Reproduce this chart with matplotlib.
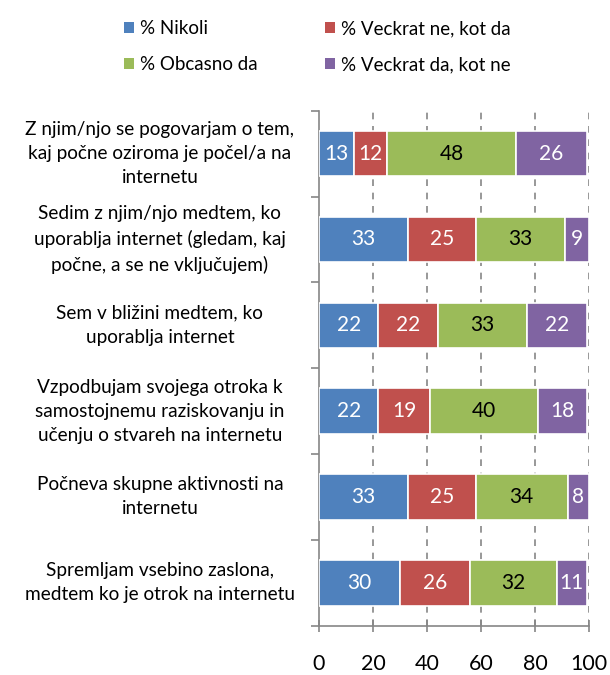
import matplotlib
matplotlib.use("Agg")
import matplotlib.pyplot as plt
from matplotlib.patches import Patch
import numpy as np

plt.rcParams['font.family'] = ['Lato', 'DejaVu Sans']

# vrstice (od zgoraj navzdol)
kategorije = [
    "Z njim/njo se pogovarjam o tem,\nkaj počne oziroma je počel/a na\ninternetu",
    "Sedim z njim/njo medtem, ko\nuporablja internet (gledam, kaj\npočne, a se ne vključujem)",
    "Sem v bližini medtem, ko\nuporablja internet",
    "Vzpodbujam svojega otroka k\nsamostojnemu raziskovanju in\nučenju o stvareh na internetu",
    "Počneva skupne aktivnosti na\ninternetu",
    "Spremljam vsebino zaslona,\nmedtem ko je otrok na internetu",
]
serije = ["% Nikoli", "% Veckrat ne, kot da", "% Obcasno da", "% Veckrat da, kot ne"]
nikoli = [13, 33, 22, 22, 33, 30]
veckrat_ne = [12, 25, 22, 19, 25, 26]
obcasno = [48, 33, 33, 40, 34, 32]
veckrat_da = [26, 9, 22, 18, 8, 11]

barve = ['#4F81BD', '#C0504D', '#9BBB59', '#8064A2']
barve_besedila = ['white', 'white', 'black', 'white']

fig = plt.figure(figsize=(6.1, 6.75), dpi=100)
ax = fig.add_axes([0.523, 0.073, 0.443, 0.763])

y = np.arange(len(kategorije))
levo = np.zeros(len(kategorije))
for vrednosti, barva, bb in zip([nikoli, veckrat_ne, obcasno, veckrat_da], barve, barve_besedila):
    vrednosti = np.array(vrednosti)
    ax.barh(y, vrednosti, left=levo, height=0.53, color=barva,
            edgecolor='white', linewidth=1.2, zorder=3)
    for yi, l, v in zip(y, levo, vrednosti):
        ax.text(l + v / 2, yi, str(v), ha='center', va='center',
                color=bb, fontsize=15, zorder=4)
    levo += vrednosti

ax.set_xlim(0, 100)
ax.set_ylim(len(kategorije) - 0.5, -0.5)
ax.set_xticks([0, 20, 40, 60, 80, 100])
ax.tick_params(axis='x', direction='inout', length=9, width=1.2,
               colors='#868686', labelcolor='black', labelsize=15.5, pad=16)
ax.set_yticks(np.arange(len(kategorije) + 1) - 0.5)
ax.set_yticklabels([])
ax.tick_params(axis='y', direction='out', length=6, width=1.2, colors='#868686')

for x in [20, 40, 60, 80, 100]:
    ax.axvline(x, color='#868686', linestyle=(0, (4, 4)), linewidth=1.2, zorder=1)

for s in ['top', 'right']:
    ax.spines[s].set_visible(False)
for s in ['left', 'bottom']:
    ax.spines[s].set_color('#868686')
    ax.spines[s].set_linewidth(1.2)

for yi, k in zip(y, kategorije):
    ax.text(-0.589, yi, k, transform=ax.get_yaxis_transform(), ha='center',
            va='center', multialignment='center', fontsize=13.7, linespacing=1.5)

rocaji = [Patch(facecolor=b, edgecolor='none') for b in barve]
red = [0, 2, 1, 3]
fig.legend([rocaji[i] for i in red], [serije[i] for i in red], ncol=2,
           loc='upper left', bbox_to_anchor=(0.175, 0.995), frameon=False,
           fontsize=13.5, handlelength=0.55, handleheight=0.55, handletextpad=0.3,
           columnspacing=3.6, labelspacing=1.0)

fig.savefig("out.png", dpi=100)
